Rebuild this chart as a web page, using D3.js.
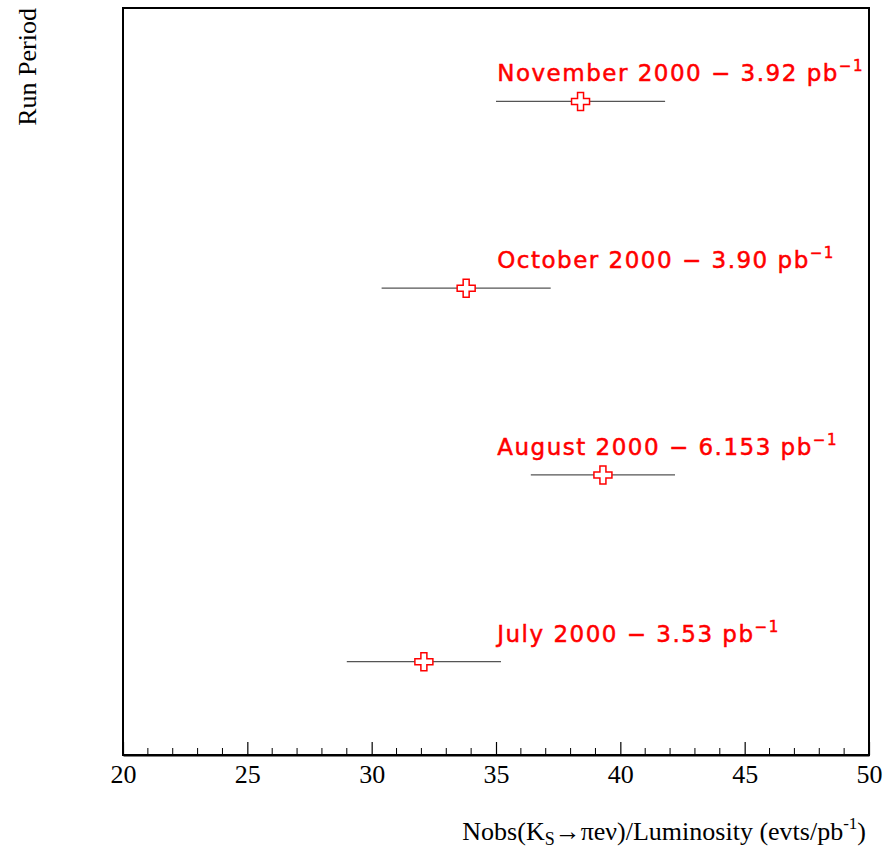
<!DOCTYPE html>
<html>
<head>
<meta charset="utf-8">
<script src="https://cdn.jsdelivr.net/npm/d3@7"></script>
<style>
  html, body { margin: 0; padding: 0; background: #fff; }
  svg { display: block; }
</style>
</head>
<body>
<svg id="chart" width="886" height="850"></svg>
<script>
// Run periods, bottom to top
const periods = ["July 2000", "August 2000", "October 2000", "November 2000"];
const lumis = ["3.53", "6.153", "3.90", "3.92"];
const rates = [32.1, 39.3, 33.8, 38.4];
const rateErrors = [3.1, 2.9, 3.4, 3.4];
const xTicks = [20, 25, 30, 35, 40, 45, 50];

const svg = d3.select("#chart");
const margin = { left: 123, right: 869, top: 8, bottom: 755 };
const serif = "Liberation Serif, Times New Roman, serif";

const x = d3.scaleLinear().domain([20, 50]).range([margin.left, margin.right]);
const y = d3.scaleLinear().domain([0, 4]).range([margin.bottom, margin.top]);

// Frame
svg.append("rect")
  .attr("x", margin.left).attr("y", margin.top)
  .attr("width", margin.right - margin.left)
  .attr("height", margin.bottom - margin.top)
  .attr("fill", "none").attr("stroke", "#000").attr("stroke-width", 2);

// Bottom axis: major ticks every 5, minor every 1, ticks pointing up
const minor = d3.range(20, 51, 1).filter(v => v % 5 !== 0);
svg.append("g").selectAll("line").data(minor).join("line")
  .attr("x1", d => x(d)).attr("x2", d => x(d))
  .attr("y1", margin.bottom).attr("y2", margin.bottom - 7)
  .attr("stroke", "#000").attr("stroke-width", 1);

const axis = d3.axisBottom(x).tickValues(xTicks).tickSizeInner(-13).tickSizeOuter(0).tickPadding(10);
const gx = svg.append("g").attr("transform", `translate(0,${margin.bottom})`).call(axis);
gx.select(".domain").attr("stroke-width", 2);
gx.selectAll(".tick line").attr("stroke-width", 1.2);
gx.selectAll(".tick text")
  .attr("font-family", serif)
  .attr("font-size", 26).attr("fill", "#000");

// Axis titles
const xt = svg.append("text")
  .attr("x", 866).attr("y", 840)
  .attr("text-anchor", "end")
  .attr("font-family", serif)
  .attr("font-size", 26).attr("fill", "#000");
xt.append("tspan").text("Nobs(K");
xt.append("tspan").attr("dy", 5).attr("font-size", 18).text("S");
xt.append("tspan").attr("dy", -5).text("\u2192\u03c0e\u03bd)/Luminosity (evts/pb");
xt.append("tspan").attr("dy", -11).attr("font-size", 17).text("-1");
xt.append("tspan").attr("dy", 11).text(")");

svg.append("text")
  .attr("transform", "translate(36,8) rotate(-90)")
  .attr("text-anchor", "end")
  .attr("font-family", serif)
  .attr("font-size", 26).attr("fill", "#000")
  .text("Run Period");

// Error bars
const rows = periods.map((p, i) => ({ p, lumi: lumis[i], v: rates[i], e: rateErrors[i], yv: i + 0.5 }));

svg.append("g").selectAll("line").data(rows).join("line")
  .attr("x1", d => x(d.v - d.e)).attr("x2", d => x(d.v + d.e))
  .attr("y1", d => y(d.yv)).attr("y2", d => y(d.yv))
  .attr("stroke", "#555").attr("stroke-width", 1.3);

// Open-cross markers
const s = 9, a = 3;
const crossPath = `M${-a},${-s}H${a}V${-a}H${s}V${a}H${a}V${s}H${-a}V${a}H${-s}V${-a}H${-a}Z`;
svg.append("g").selectAll("path").data(rows).join("path")
  .attr("transform", d => `translate(${x(d.v)},${y(d.yv)})`)
  .attr("d", crossPath)
  .attr("fill", "#fff").attr("stroke", "#f00").attr("stroke-width", 1.5);

// Period labels
const labels = svg.append("g").selectAll("text").data(rows).join("text")
  .attr("x", x(35.05)).attr("y", d => y(d.yv) - 20)
  .attr("font-family", "DejaVu Sans, sans-serif")
  .attr("font-size", 23).attr("fill", "#f00")
  .attr("stroke", "#f00").attr("stroke-width", 0.5)
  .attr("letter-spacing", 1.5);
labels.append("tspan").text(d => `${d.p} \u2212 ${d.lumi} pb`);
labels.append("tspan").attr("dy", -10).attr("font-size", 15).text("\u22121");
</script>
</body>
</html>
